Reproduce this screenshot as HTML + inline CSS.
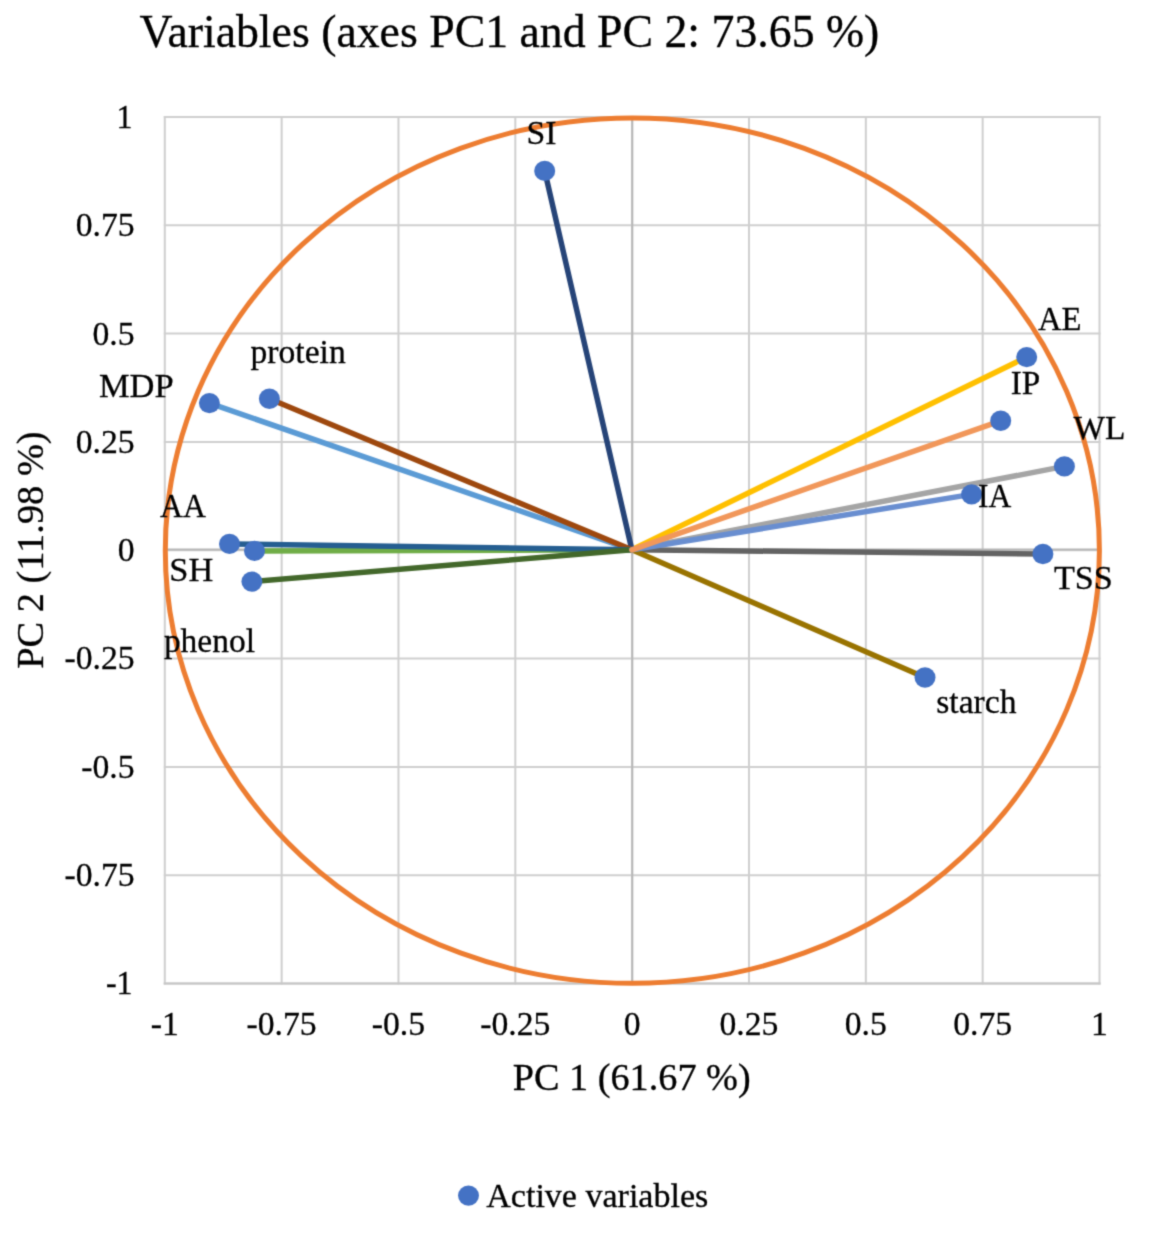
<!DOCTYPE html><html><head><meta charset="utf-8"><style>html,body{margin:0;padding:0;background:#fff;overflow:hidden}#w{width:1157px;height:1248px;will-change:transform}svg{display:block}text{font-family:"Liberation Serif", serif;fill:#000;stroke:#000;stroke-width:0.3px}</style></head><body><div id="w">
<svg width="1157" height="1248" viewBox="0 0 1157 1248">
<defs><filter id="cv" filterUnits="userSpaceOnUse" x="0" y="0" width="1157" height="1248" color-interpolation-filters="sRGB"><feConvolveMatrix order="3" kernelMatrix="1 4 1 4 16 4 1 4 1" edgeMode="duplicate"/></filter></defs><g filter="url(#cv)">
<rect width="1157" height="1248" fill="#fff"/>
<g stroke="#cfcfcf" stroke-width="2"><line x1="164.80" y1="116.00" x2="164.80" y2="984.50"/><line x1="281.64" y1="116.00" x2="281.64" y2="984.50"/><line x1="398.48" y1="116.00" x2="398.48" y2="984.50"/><line x1="515.31" y1="116.00" x2="515.31" y2="984.50"/><line x1="632.15" y1="116.00" x2="632.15" y2="984.50"/><line x1="748.99" y1="116.00" x2="748.99" y2="984.50"/><line x1="865.83" y1="116.00" x2="865.83" y2="984.50"/><line x1="982.66" y1="116.00" x2="982.66" y2="984.50"/><line x1="1099.50" y1="116.00" x2="1099.50" y2="984.50"/><line x1="163.80" y1="117.00" x2="1100.50" y2="117.00"/><line x1="163.80" y1="225.31" x2="1100.50" y2="225.31"/><line x1="163.80" y1="333.62" x2="1100.50" y2="333.62"/><line x1="163.80" y1="441.94" x2="1100.50" y2="441.94"/><line x1="163.80" y1="550.25" x2="1100.50" y2="550.25"/><line x1="163.80" y1="658.56" x2="1100.50" y2="658.56"/><line x1="163.80" y1="766.88" x2="1100.50" y2="766.88"/><line x1="163.80" y1="875.19" x2="1100.50" y2="875.19"/><line x1="163.80" y1="983.50" x2="1100.50" y2="983.50"/></g>
<g stroke="#b6b6b6" stroke-width="2"><line x1="632.25" y1="116.00" x2="632.25" y2="984.50"/><line x1="163.80" y1="549.55" x2="1100.50" y2="549.55"/></g>
<line x1="163.80" y1="983.50" x2="1100.50" y2="983.50" stroke="#c6c6c6" stroke-width="2"/>
<ellipse cx="632.35" cy="550.60" rx="467.05" ry="432.70" fill="none" stroke="#ED7D31" stroke-width="5.0"/>
<line x1="631.90" y1="549.80" x2="1064.40" y2="466.40" stroke="#A5A5A5" stroke-width="5.5" stroke-linecap="round"/>
<line x1="631.90" y1="549.80" x2="1026.70" y2="357.10" stroke="#FFC000" stroke-width="5.5" stroke-linecap="round"/>
<line x1="631.90" y1="549.80" x2="209.40" y2="403.10" stroke="#5B9BD5" stroke-width="5.5" stroke-linecap="round"/>
<line x1="631.90" y1="549.80" x2="254.50" y2="550.90" stroke="#70AD47" stroke-width="5.5" stroke-linecap="round"/>
<line x1="631.90" y1="549.80" x2="544.70" y2="170.90" stroke="#264478" stroke-width="5.5" stroke-linecap="round"/>
<line x1="631.90" y1="549.80" x2="269.40" y2="398.80" stroke="#9E480E" stroke-width="5.5" stroke-linecap="round"/>
<line x1="631.90" y1="549.80" x2="1042.90" y2="554.00" stroke="#636363" stroke-width="5.5" stroke-linecap="round"/>
<line x1="631.90" y1="549.80" x2="925.00" y2="677.50" stroke="#997300" stroke-width="5.5" stroke-linecap="round"/>
<line x1="631.90" y1="549.80" x2="229.50" y2="543.90" stroke="#255E91" stroke-width="5.5" stroke-linecap="round"/>
<line x1="631.90" y1="549.80" x2="251.90" y2="581.60" stroke="#43682B" stroke-width="5.5" stroke-linecap="round"/>
<line x1="631.90" y1="549.80" x2="971.60" y2="494.40" stroke="#698ED0" stroke-width="5.5" stroke-linecap="round"/>
<line x1="631.90" y1="549.80" x2="1000.70" y2="420.80" stroke="#F1975A" stroke-width="5.5" stroke-linecap="round"/>
<ellipse cx="1064.40" cy="466.40" rx="10.5" ry="10.2" fill="#4472C4"/>
<ellipse cx="1026.70" cy="357.10" rx="10.5" ry="10.2" fill="#4472C4"/>
<ellipse cx="209.40" cy="403.10" rx="10.5" ry="10.2" fill="#4472C4"/>
<ellipse cx="254.50" cy="550.90" rx="10.5" ry="10.2" fill="#4472C4"/>
<ellipse cx="544.70" cy="170.90" rx="10.5" ry="10.2" fill="#4472C4"/>
<ellipse cx="269.40" cy="398.80" rx="10.5" ry="10.2" fill="#4472C4"/>
<ellipse cx="1042.90" cy="554.00" rx="10.5" ry="10.2" fill="#4472C4"/>
<ellipse cx="925.00" cy="677.50" rx="10.5" ry="10.2" fill="#4472C4"/>
<ellipse cx="229.50" cy="543.90" rx="10.5" ry="10.2" fill="#4472C4"/>
<ellipse cx="251.90" cy="581.60" rx="10.5" ry="10.2" fill="#4472C4"/>
<ellipse cx="971.60" cy="494.40" rx="10.5" ry="10.2" fill="#4472C4"/>
<ellipse cx="1000.70" cy="420.80" rx="10.5" ry="10.2" fill="#4472C4"/>
<ellipse cx="468.5" cy="1195.6" rx="10.5" ry="10.2" fill="#4472C4"/>
<text x="139.4" y="46.6" font-size="46" textLength="739.97" lengthAdjust="spacingAndGlyphs">Variables (axes PC1 and PC 2: 73.65 %)</text>
<text x="512.8" y="1089.55" font-size="37" textLength="237.86" lengthAdjust="spacingAndGlyphs">PC 1 (61.67 %)</text>
<text transform="translate(43.45,668.8) rotate(-90)" x="0" y="0" font-size="37" textLength="237.45" lengthAdjust="spacingAndGlyphs">PC 2 (11.98 %)</text>
<text x="486.3" y="1207.25" font-size="34" textLength="221.97" lengthAdjust="spacingAndGlyphs">Active variables</text>
<text x="98.9" y="396.5" font-size="34" textLength="74.72" lengthAdjust="spacingAndGlyphs">MDP</text>
<text x="250.5" y="362.6" font-size="34" textLength="95.19" lengthAdjust="spacingAndGlyphs">protein</text>
<text x="160.1" y="517.3" font-size="34" textLength="45.81" lengthAdjust="spacingAndGlyphs">AA</text>
<text x="169.3" y="580.5" font-size="34" textLength="43.95" lengthAdjust="spacingAndGlyphs">SH</text>
<text x="163.9" y="652.1" font-size="34" textLength="91.06" lengthAdjust="spacingAndGlyphs">phenol</text>
<text x="526.5" y="143.8" font-size="34" textLength="29.97" lengthAdjust="spacingAndGlyphs">SI</text>
<text x="1037.9" y="330.3" font-size="34" textLength="43.51" lengthAdjust="spacingAndGlyphs">AE</text>
<text x="1010.7" y="393.9" font-size="34" textLength="29.46" lengthAdjust="spacingAndGlyphs">IP</text>
<text x="1073.5" y="439.25" font-size="34" textLength="51.95" lengthAdjust="spacingAndGlyphs">WL</text>
<text x="978.1" y="507.15" font-size="34" textLength="33.29" lengthAdjust="spacingAndGlyphs">IA</text>
<text x="1053.9" y="588.85" font-size="34" textLength="58.92" lengthAdjust="spacingAndGlyphs">TSS</text>
<text x="936.3" y="712.6" font-size="34" textLength="80.24" lengthAdjust="spacingAndGlyphs">starch</text>
<text x="132.6" y="127.9" font-size="34.5" textLength="16.0" lengthAdjust="spacingAndGlyphs" text-anchor="end">1</text>
<text x="134.6" y="236.21" font-size="34.5" textLength="58.91" lengthAdjust="spacingAndGlyphs" text-anchor="end">0.75</text>
<text x="134.6" y="344.52" font-size="34.5" textLength="42.08" lengthAdjust="spacingAndGlyphs" text-anchor="end">0.5</text>
<text x="134.6" y="452.84" font-size="34.5" textLength="58.91" lengthAdjust="spacingAndGlyphs" text-anchor="end">0.25</text>
<text x="134.6" y="561.15" font-size="34.5" textLength="16.83" lengthAdjust="spacingAndGlyphs" text-anchor="end">0</text>
<text x="134.6" y="669.46" font-size="34.5" textLength="70.11" lengthAdjust="spacingAndGlyphs" text-anchor="end">-0.25</text>
<text x="134.6" y="777.77" font-size="34.5" textLength="53.28" lengthAdjust="spacingAndGlyphs" text-anchor="end">-0.5</text>
<text x="134.6" y="886.09" font-size="34.5" textLength="70.11" lengthAdjust="spacingAndGlyphs" text-anchor="end">-0.75</text>
<text x="132.6" y="994.4" font-size="34.5" textLength="26.66" lengthAdjust="spacingAndGlyphs" text-anchor="end">-1</text>
<text x="164.8" y="1034.9" font-size="34.5" textLength="28.04" lengthAdjust="spacingAndGlyphs" text-anchor="middle">-1</text>
<text x="281.64" y="1034.9" font-size="34.5" textLength="70.11" lengthAdjust="spacingAndGlyphs" text-anchor="middle">-0.75</text>
<text x="398.48" y="1034.9" font-size="34.5" textLength="53.28" lengthAdjust="spacingAndGlyphs" text-anchor="middle">-0.5</text>
<text x="515.31" y="1034.9" font-size="34.5" textLength="70.11" lengthAdjust="spacingAndGlyphs" text-anchor="middle">-0.25</text>
<text x="632.15" y="1034.9" font-size="34.5" textLength="16.83" lengthAdjust="spacingAndGlyphs" text-anchor="middle">0</text>
<text x="748.99" y="1034.9" font-size="34.5" textLength="58.91" lengthAdjust="spacingAndGlyphs" text-anchor="middle">0.25</text>
<text x="865.83" y="1034.9" font-size="34.5" textLength="42.08" lengthAdjust="spacingAndGlyphs" text-anchor="middle">0.5</text>
<text x="982.66" y="1034.9" font-size="34.5" textLength="58.91" lengthAdjust="spacingAndGlyphs" text-anchor="middle">0.75</text>
<text x="1099.5" y="1034.9" font-size="34.5" textLength="16.83" lengthAdjust="spacingAndGlyphs" text-anchor="middle">1</text>
</g>
</svg></div></body></html>
